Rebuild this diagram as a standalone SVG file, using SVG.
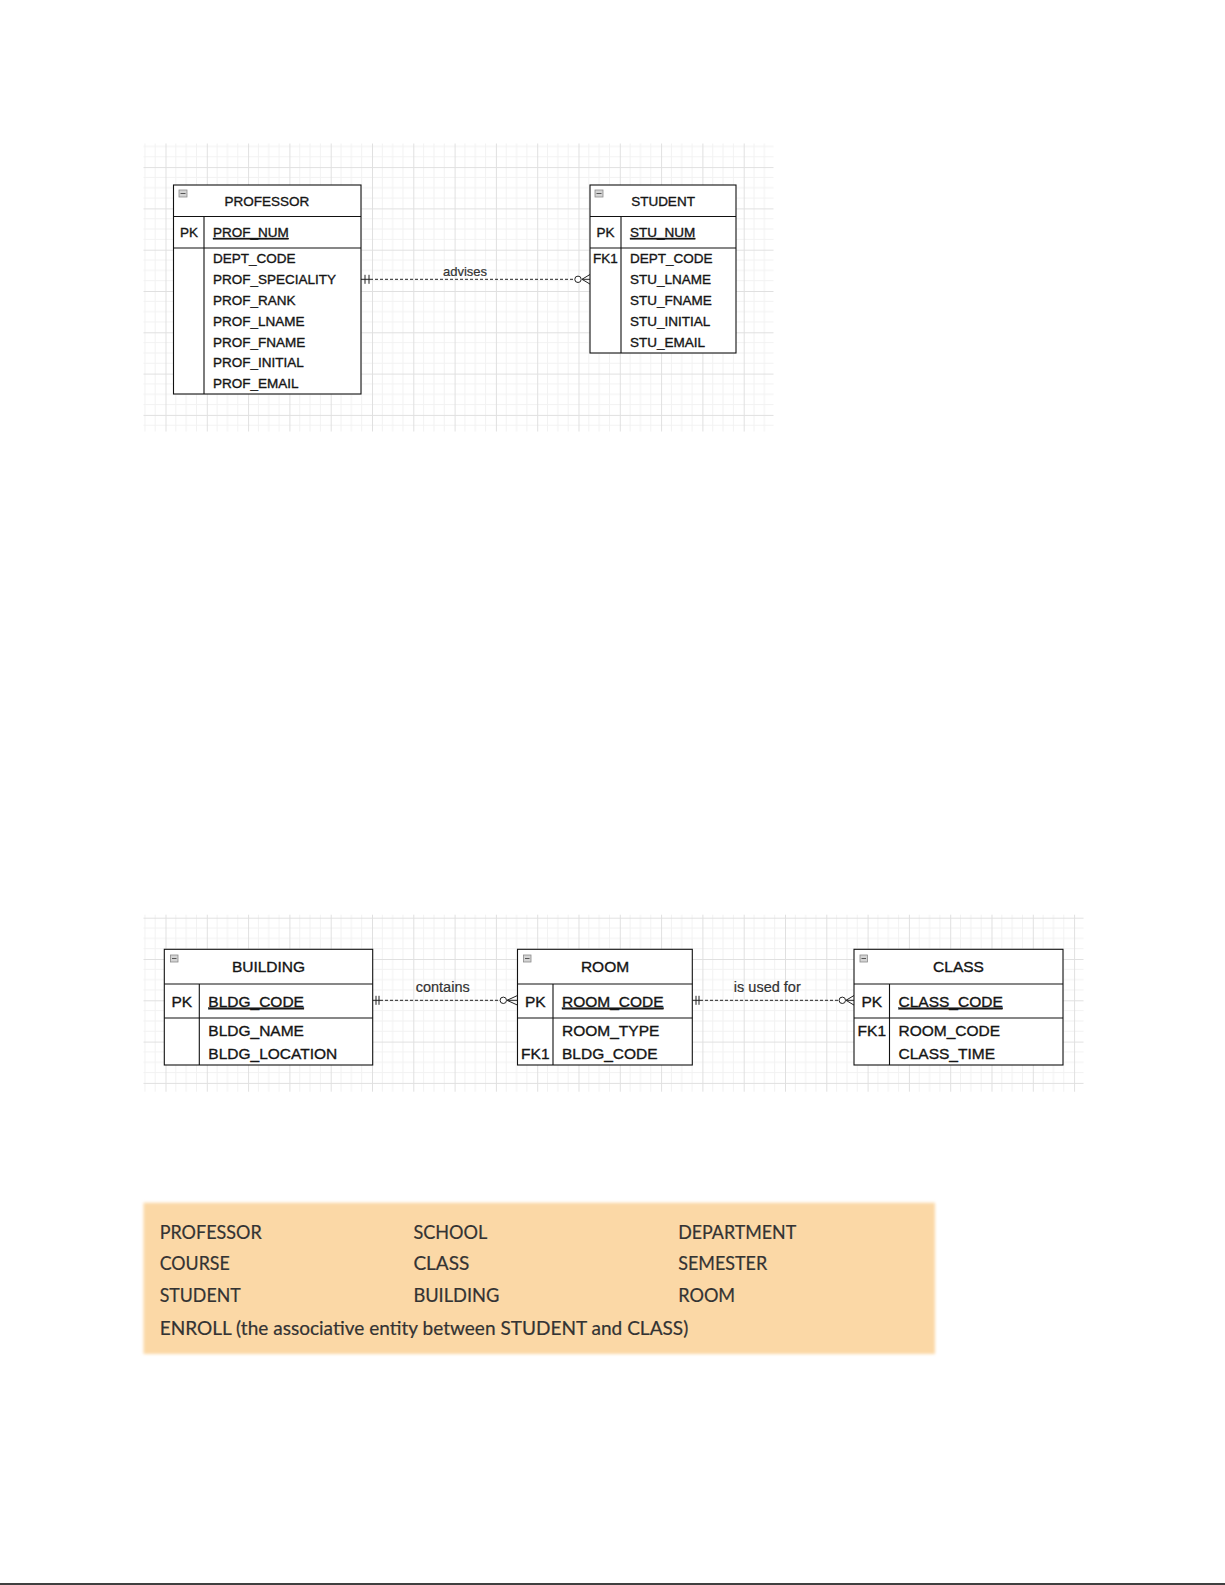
<svg xmlns="http://www.w3.org/2000/svg" width="1225" height="1585" viewBox="0 0 1225 1585">
<style>
.t{font-family:"Liberation Sans",Arial,sans-serif;fill:#151515;stroke:#151515;stroke-width:0.35}
.s13{font-size:13.5px}
.s15{font-size:15.5px}
.mid{text-anchor:middle}
.box{fill:#fff;stroke:#111;stroke-width:1.1}
.ln{stroke:#111;stroke-width:1.1;fill:none}
.mi{fill:#d4d4d4;stroke:#8a8a8a;stroke-width:0.8}
.dash{stroke:#222;stroke-width:1;stroke-dasharray:3 2;fill:none}
.end{stroke:#222;stroke-width:1;fill:none}
.lbl{font-family:"Liberation Sans",Arial,sans-serif;fill:#333;stroke:#333;stroke-width:0.2}
.o{font-family:Lato,"Open Sans",sans-serif;font-size:19px;fill:#333;stroke:#333;stroke-width:0.2}
</style>
<defs>
<pattern id="g1" patternUnits="userSpaceOnUse" x="413.3" y="332.3" width="41.3" height="41.3">
<path d="M10.33 0V41.3M20.66 0V41.3M30.99 0V41.3M0 10.33H41.3M0 20.66H41.3M0 30.99H41.3" stroke="#f2f2f2" stroke-width="1"/>
<path d="M0.5 0V41.3M0 0.5H41.3" stroke="#e0e0e0" stroke-width="1"/>
</pattern>
<pattern id="g2" patternUnits="userSpaceOnUse" x="413.3" y="959" width="41.3" height="41.3">
<path d="M10.33 0V41.3M20.66 0V41.3M30.99 0V41.3M0 10.33H41.3M0 20.66H41.3M0 30.99H41.3" stroke="#f2f2f2" stroke-width="1"/>
<path d="M0.5 0V41.3M0 0.5H41.3" stroke="#e0e0e0" stroke-width="1"/>
</pattern>
<filter id="blur" x="-5%" y="-10%" width="110%" height="120%"><feGaussianBlur stdDeviation="1.5"/></filter>
</defs>
<rect width="1225" height="1585" fill="#fff"/>
<rect x="143.5" y="143.5" width="630" height="288" fill="url(#g1)"/>
<rect x="143.5" y="914.7" width="940" height="177" fill="url(#g2)"/>

<g id="connectors">
<g id="advises">
<line class="dash" x1="370" y1="279.3" x2="575" y2="279.3"/>
<path class="end" d="M361 279.3H370M365 274.8V283.8M369 274.8V283.8M582 279.3L590 274.5M582 279.3H590M582 279.3L590 284.1"/>
<circle cx="578" cy="279.3" r="3.2" fill="#fff" stroke="#222" stroke-width="1"/>
<text class="lbl mid" x="465" y="275.5" font-size="13px">advises</text>
</g>
<g id="contains">
<line class="dash" x1="380" y1="1000.3" x2="500" y2="1000.3"/>
<path class="end" d="M372.7 1000.3H380M376 995.8V1004.8M379 995.8V1004.8M507 1000.3L517.5 995.5M507 1000.3H517.5M507 1000.3L517.5 1005.1"/>
<circle cx="503.3" cy="1000.3" r="3.2" fill="#fff" stroke="#222" stroke-width="1"/>
<text class="lbl mid" x="442.7" y="992.3" font-size="14.5px">contains</text>
</g>
<g id="isusedfor">
<line class="dash" x1="700" y1="1000.3" x2="839" y2="1000.3"/>
<path class="end" d="M692.3 1000.3H700M696 995.8V1004.8M699 995.8V1004.8M846 1000.3L854 995.5M846 1000.3H854M846 1000.3L854 1005.1"/>
<circle cx="842.3" cy="1000.3" r="3.2" fill="#fff" stroke="#222" stroke-width="1"/>
<text class="lbl mid" x="767.3" y="991.7" font-size="14.5px">is used for</text>
</g>
</g>

<g id="professor">
<rect class="box" x="173.5" y="185" width="187.5" height="209"/>
<path class="ln" d="M173.5 216.5H361M173.5 248H361M204 216.5V394"/>
<rect class="mi" x="179" y="190" width="8" height="7"/>
<line x1="180.5" y1="193.5" x2="185.5" y2="193.5" stroke="#555" stroke-width="1"/>
<text class="t s13 mid" x="267" y="206">PROFESSOR</text>
<text class="t s13 mid" x="189" y="237">PK</text>
<text class="t s13" x="213" y="237" text-decoration="underline">PROF_NUM</text>
<text class="t s13" x="213" y="263.3">DEPT_CODE</text>
<text class="t s13" x="213" y="284.1">PROF_SPECIALITY</text>
<text class="t s13" x="213" y="304.9">PROF_RANK</text>
<text class="t s13" x="213" y="325.7">PROF_LNAME</text>
<text class="t s13" x="213" y="346.5">PROF_FNAME</text>
<text class="t s13" x="213" y="367.3">PROF_INITIAL</text>
<text class="t s13" x="213" y="388.1">PROF_EMAIL</text>
</g>

<g id="student">
<rect class="box" x="590" y="185" width="146" height="168"/>
<path class="ln" d="M590 216.5H736M590 248H736M621 216.5V353"/>
<rect class="mi" x="595" y="190" width="8" height="7"/>
<line x1="596.5" y1="193.5" x2="601.5" y2="193.5" stroke="#555" stroke-width="1"/>
<text class="t s13 mid" x="663" y="206">STUDENT</text>
<text class="t s13 mid" x="605.5" y="237">PK</text>
<text class="t s13" x="630" y="237" text-decoration="underline">STU_NUM</text>
<text class="t s13 mid" x="605.5" y="263.3">FK1</text>
<text class="t s13" x="630" y="263.3">DEPT_CODE</text>
<text class="t s13" x="630" y="284.1">STU_LNAME</text>
<text class="t s13" x="630" y="304.9">STU_FNAME</text>
<text class="t s13" x="630" y="325.7">STU_INITIAL</text>
<text class="t s13" x="630" y="346.5">STU_EMAIL</text>
</g>

<g id="building">
<rect class="box" x="164.3" y="949.3" width="208.4" height="115.7"/>
<path class="ln" d="M164.3 984H372.7M164.3 1018H372.7M199.3 984V1065"/>
<rect class="mi" x="170.5" y="955" width="7.5" height="7"/>
<line x1="172" y1="958.5" x2="176.5" y2="958.5" stroke="#555" stroke-width="1"/>
<text class="t s15 mid" x="268.5" y="971.7">BUILDING</text>
<text class="t s15 mid" x="181.8" y="1006.7">PK</text>
<text class="t s15" x="208.3" y="1006.7" text-decoration="underline">BLDG_CODE</text>
<text class="t s15" x="208.3" y="1035.5">BLDG_NAME</text>
<text class="t s15" x="208.3" y="1058.5">BLDG_LOCATION</text>
</g>

<g id="room">
<rect class="box" x="517.5" y="949.3" width="174.8" height="115.7"/>
<path class="ln" d="M517.5 984H692.3M517.5 1018H692.3M553 984V1065"/>
<rect class="mi" x="523.5" y="955" width="7.5" height="7"/>
<line x1="525" y1="958.5" x2="529.5" y2="958.5" stroke="#555" stroke-width="1"/>
<text class="t s15 mid" x="605" y="971.7">ROOM</text>
<text class="t s15 mid" x="535.3" y="1006.7">PK</text>
<text class="t s15" x="562" y="1006.7" text-decoration="underline">ROOM_CODE</text>
<text class="t s15" x="562" y="1035.5">ROOM_TYPE</text>
<text class="t s15 mid" x="535.3" y="1058.5">FK1</text>
<text class="t s15" x="562" y="1058.5">BLDG_CODE</text>
</g>

<g id="class">
<rect class="box" x="854" y="949.3" width="209" height="115.7"/>
<path class="ln" d="M854 984H1063M854 1018H1063M889.5 984V1065"/>
<rect class="mi" x="860" y="955" width="7.5" height="7"/>
<line x1="861.5" y1="958.5" x2="866" y2="958.5" stroke="#555" stroke-width="1"/>
<text class="t s15 mid" x="958.5" y="971.7">CLASS</text>
<text class="t s15 mid" x="871.8" y="1006.7">PK</text>
<text class="t s15" x="898.5" y="1006.7" text-decoration="underline">CLASS_CODE</text>
<text class="t s15 mid" x="871.8" y="1035.5">FK1</text>
<text class="t s15" x="898.5" y="1035.5">ROOM_CODE</text>
<text class="t s15" x="898.5" y="1058.5">CLASS_TIME</text>
</g>

<g id="entity-list">
<rect x="143.5" y="1202.7" width="791.5" height="151.3" fill="#fbd8a6" filter="url(#blur)"/>
<text class="o" x="159.7" y="1238.5" textLength="102" lengthAdjust="spacingAndGlyphs">PROFESSOR</text>
<text class="o" x="413.4" y="1238.5" textLength="74" lengthAdjust="spacingAndGlyphs">SCHOOL</text>
<text class="o" x="678.2" y="1238.5" textLength="118" lengthAdjust="spacingAndGlyphs">DEPARTMENT</text>
<text class="o" x="159.7" y="1269.5" textLength="70" lengthAdjust="spacingAndGlyphs">COURSE</text>
<text class="o" x="413.4" y="1269.5" textLength="56" lengthAdjust="spacingAndGlyphs">CLASS</text>
<text class="o" x="678.2" y="1269.5" textLength="89" lengthAdjust="spacingAndGlyphs">SEMESTER</text>
<text class="o" x="159.7" y="1302" textLength="81" lengthAdjust="spacingAndGlyphs">STUDENT</text>
<text class="o" x="413.4" y="1302" textLength="86" lengthAdjust="spacingAndGlyphs">BUILDING</text>
<text class="o" x="678.2" y="1302" textLength="57" lengthAdjust="spacingAndGlyphs">ROOM</text>
<text class="o" x="159.7" y="1334.5" textLength="528.6" lengthAdjust="spacingAndGlyphs">ENROLL (the associative entity between STUDENT and CLASS)</text>
</g>

<line x1="0" y1="1584" x2="1225" y2="1584" stroke="#000" stroke-width="1.5"/>
</svg>
